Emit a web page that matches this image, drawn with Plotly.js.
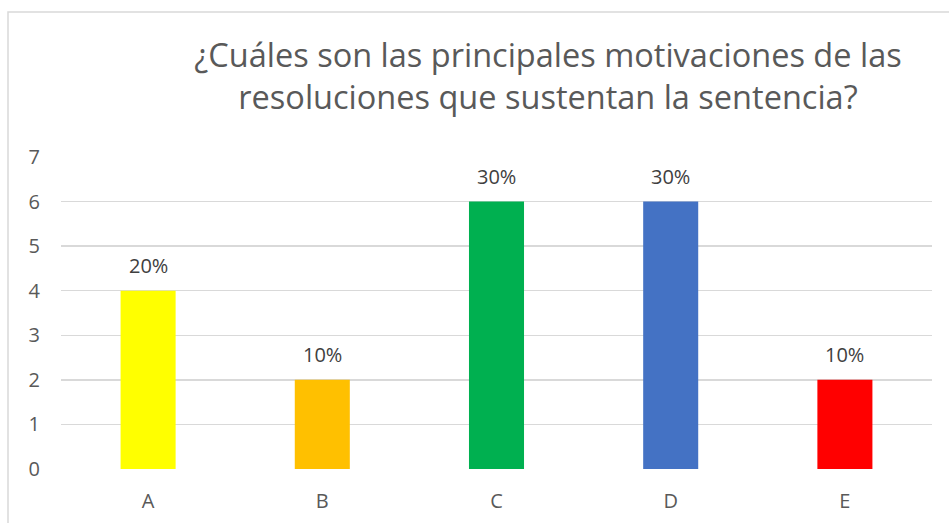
<!DOCTYPE html>
<html><head><meta charset="utf-8">
<script src="https://cdn.plot.ly/plotly-3.0.1.min.js"></script>
<style>html,body{margin:0;padding:0;background:#fff;}#chart{width:949px;height:523px;}</style>
</head><body><div id="chart"></div>
<script>
const categories = ['A','B','C','D','E'];
const values = [4,2,6,6,2];
const labels = ['20%','10%','30%','30%','10%'];
const colors = ['#FFFF00','#FFC000','#00B050','#4472C4','#FF0000'];
const yTicks = [0,1,2,3,4,5,6,7];
const titleText = '¿Cuáles son las principales motivaciones de las<br>resoluciones que sustentan la sentencia?';

const font = 'Open Sans, Liberation Sans, sans-serif';
const trace = {
  type:'bar', x:categories, y:values,
  marker:{color:colors},
  width:0.316,
  hoverinfo:'skip'
};
const annotations = categories.map((c,i)=>({
  x:c, y:values[i], text:labels[i], showarrow:false,
  xref:'x', yref:'y', yanchor:'bottom', yshift:10,
  font:{family:font, size:20, color:'#404040'}
}));
const layout = {
  width:949, height:523,
  margin:{l:61, r:17, t:157, b:54},
  paper_bgcolor:'#fff', plot_bgcolor:'#fff',
  showlegend:false,
  title:{text:titleText, x:548/949, xanchor:'center', y:(523-67)/523, yanchor:'middle',
    font:{family:font, size:32.5, color:'#595959'}},
  xaxis:{type:'category', showgrid:false, zeroline:false, showline:false,
    ticks:'outside', ticklen:14, tickcolor:'rgba(0,0,0,0)',
    tickfont:{family:font, size:20, color:'#595959'}, fixedrange:true},
  yaxis:{range:[0,7], tickvals:yTicks, showgrid:true, gridcolor:'#d9d9d9', gridwidth:1.5,
    zeroline:false, showline:false,
    ticks:'outside', ticklen:16, tickcolor:'rgba(0,0,0,0)',
    tickfont:{family:font, size:20, color:'#595959'}, fixedrange:true},
  annotations:annotations,
  shapes:[{type:'rect', xref:'paper', yref:'paper',
    x0:(8-61)/871, x1:1.1, y0:-0.3, y1:1+(157-12)/312,
    line:{color:'#d9d9d9', width:1.5}, fillcolor:'rgba(0,0,0,0)', layer:'below'}]
};
Plotly.newPlot('chart',[trace],layout,{displayModeBar:false, staticPlot:true});
</script></body></html>
